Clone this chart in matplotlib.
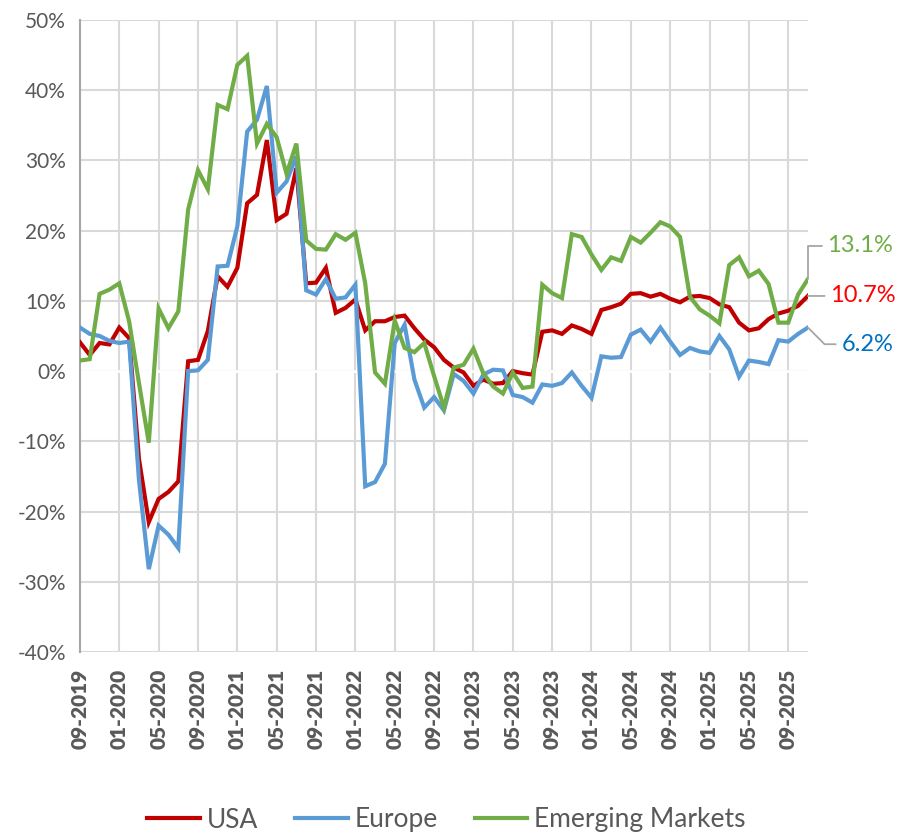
import numpy as np
import pandas as pd
import matplotlib
matplotlib.use("Agg")
import matplotlib.pyplot as plt
from matplotlib.ticker import FuncFormatter

# monthly series, 09-2019 .. 11-2025 (values in %)
months = pd.date_range("2019-09-01", periods=75, freq="MS").strftime("%m-%Y").tolist()

usa = [4.1, 2.3, 4.0, 3.8, 6.2, 4.7, -12.5, -21.5, -18.2, -17.2,
       -15.7, 1.4, 1.6, 5.7, 13.5, 12.0, 14.7, 23.9, 25.1, 32.9,
       21.5, 22.4, 28.9, 12.5, 12.6, 14.7, 8.3, 9.0, 10.2, 5.8,
       7.1, 7.1, 7.7, 7.9, 6.1, 4.5, 3.4, 1.6, 0.5, -0.2,
       -2.1, -1.2, -1.8, -1.7, 0.0, -0.3, -0.5, 5.6, 5.8, 5.3,
       6.5, 6.0, 5.3, 8.7, 9.1, 9.6, 11.0, 11.1, 10.6, 11.0,
       10.3, 9.8, 10.6, 10.7, 10.4, 9.5, 9.1, 6.9, 5.8, 6.1,
       7.4, 8.2, 8.6, 9.3, 10.7]

europe = [6.2, 5.3, 5.0, 4.3, 4.0, 4.2, -15.5, -28.2, -22.0, -23.3,
          -25.2, 0.0, 0.1, 1.6, 14.9, 15.0, 20.6, 34.1, 35.8, 40.6,
          25.4, 27.0, 30.6, 11.5, 10.9, 13.1, 10.3, 10.5, 12.3, -16.4,
          -15.8, -13.2, 4.0, 6.6, -1.2, -5.2, -3.7, -5.6, -0.4, -1.4,
          -3.2, -0.5, 0.2, 0.1, -3.4, -3.7, -4.5, -1.9, -2.1, -1.7,
          -0.2, -2.1, -3.8, 2.1, 1.9, 2.0, 5.2, 5.9, 4.2, 6.2,
          4.2, 2.3, 3.3, 2.8, 2.6, 5.0, 3.1, -0.8, 1.5, 1.3,
          1.0, 4.4, 4.2, 5.3, 6.2]

emerging = [1.5, 1.7, 11.0, 11.6, 12.5, 7.1, -1.7, -10.2, 8.9, 6.1,
            8.5, 23.0, 28.6, 25.9, 37.9, 37.3, 43.6, 44.9, 32.4, 35.2,
            33.3, 28.1, 32.4, 18.6, 17.4, 17.3, 19.5, 18.7, 19.7, 12.5,
            -0.2, -1.8, 7.2, 3.3, 2.7, 4.0, -0.7, -5.2, 0.5, 0.9,
            3.2, -0.3, -2.2, -3.2, -0.2, -2.4, -2.2, 12.3, 11.1, 10.4,
            19.5, 19.1, 16.6, 14.4, 16.2, 15.7, 19.1, 18.3, 19.7, 21.2,
            20.6, 19.1, 10.6, 8.8, 7.9, 6.8, 15.1, 16.2, 13.5, 14.3,
            12.4, 6.9, 6.9, 10.9, 13.1]

series = [
    ("USA", usa, "#C00000", "#FF0000"),
    ("Europe", europe, "#5B9BD5", "#0070C0"),
    ("Emerging Markets", emerging, "#70AD47", "#70AD47"),
]

plt.rcParams["font.family"] = ["Lato", "DejaVu Sans"]
grey_text = "#595959"
grid_col = "#D9D9D9"

fig = plt.figure(figsize=(8.98, 8.36), dpi=100)
ax = fig.add_axes([0.089, 0.2201, 0.8107, 0.756])

x = np.arange(len(months))
for name, vals, col, _ in series:
    ax.plot(x, vals, color=col, lw=3.0, label=name, zorder=3,
            solid_joinstyle="miter")

ax.set_xlim(0, len(months) - 1)
ax.set_ylim(-40, 50)
ax.set_yticks(np.arange(-40, 51, 10))
ax.yaxis.set_major_formatter(FuncFormatter(lambda v, p: f"{v:.0f}%"))
tick_pos = x[::4]
ax.set_xticks(tick_pos)
ax.set_xticklabels([months[i] for i in tick_pos], rotation=90,
                   fontweight="heavy", fontsize=15, color=grey_text)
ax.tick_params(axis="y", labelsize=15, labelcolor=grey_text, length=0, pad=10)
ax.tick_params(axis="x", length=0, pad=12)

ax.grid(True, color=grid_col, lw=1.5, zorder=0)
ax.set_axisbelow(True)
ax.axhline(0, color="white", lw=2, zorder=1)
for s in ["top", "right", "bottom"]:
    ax.spines[s].set_visible(False)
ax.spines["left"].set_color("#A6A6A6")
ax.spines["left"].set_linewidth(1.5)

# end-of-series labels with leader lines
last = len(months) - 1
offsets = {"USA": (16, 0, "arc3,rad=0"),
           "Europe": (24, -12, "angle,angleA=0,angleB=-45"),
           "Emerging Markets": (14, 24, "angle,angleA=0,angleB=90")}
for name, vals, _, tcol in series:
    dx, dy, cs = offsets[name]
    ax.annotate(f"{vals[-1]:.1f}%", xy=(last, vals[-1]), xycoords="data",
                xytext=(dx, dy), textcoords="offset points",
                ha="left", va="center", fontsize=17, color=tcol,
                annotation_clip=False,
                arrowprops=dict(arrowstyle="-", color="#A6A6A6", lw=1.3,
                                connectionstyle=cs, shrinkA=2, shrinkB=0))

fig.legend(loc="center", bbox_to_anchor=(0.497, 1 - 820 / 836), ncol=3,
           frameon=False, fontsize=19, handlelength=2.0, handletextpad=0.25,
           columnspacing=1.4, labelcolor=grey_text)

fig.savefig("out.png", dpi=100)
